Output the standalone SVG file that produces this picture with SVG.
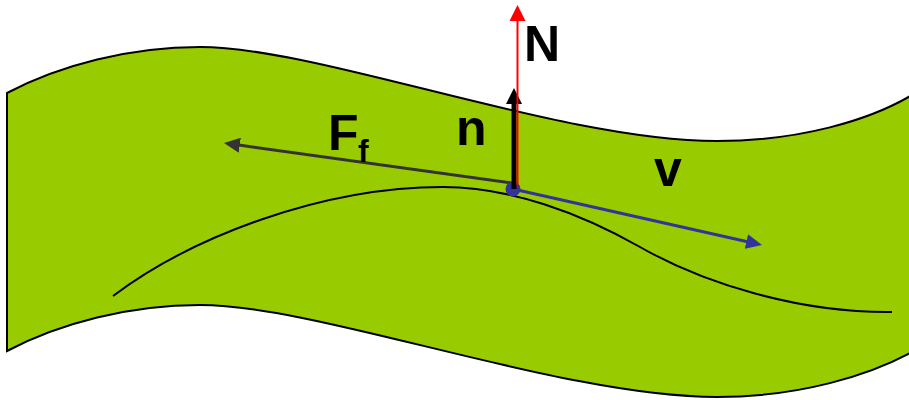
<svg xmlns="http://www.w3.org/2000/svg" width="909" height="400" viewBox="0 0 909 400">
  <style>
    .band { fill: #99CC00; stroke: #000000; stroke-width: 2; }
    .curve { fill: none; stroke: #000000; stroke-width: 2; }
    .lbl { font-family: "Liberation Sans", Arial, sans-serif; font-weight: bold; fill: #000000; }
  </style>
  <defs>
    <marker id="headRed" markerUnits="userSpaceOnUse" viewBox="0 0 16 16" markerWidth="16" markerHeight="16" refX="8" refY="8" orient="auto">
      <path d="M0,0 L16,8 L0,16 z" fill="#FF0000"/>
    </marker>
    <marker id="headBlack" markerUnits="userSpaceOnUse" viewBox="0 0 16 16" markerWidth="16" markerHeight="16" refX="8" refY="8" orient="auto">
      <path d="M0,0 L16,8 L0,16 z" fill="#000000"/>
    </marker>
    <marker id="headGray" markerUnits="userSpaceOnUse" viewBox="0 0 16 15" markerWidth="16" markerHeight="15" refX="8" refY="7.5" orient="auto">
      <path d="M0,0 L16,7.5 L0,15 z" fill="#333333"/>
    </marker>
    <marker id="headBlue" markerUnits="userSpaceOnUse" viewBox="0 0 16 15" markerWidth="16" markerHeight="15" refX="8" refY="7.5" orient="auto">
      <path d="M0,0 L16,7.5 L0,15 z" fill="#333399"/>
    </marker>
  </defs>

  <g id="surface">
    <path class="band" d="M7,93 C60,65 130,47 200,47 C320,47 560,141 717,141 C800,141 870,120 912,95 L912,352 C870,375 800,397 717,397 C560,397 320,305 200,305 C130,305 60,323 7,351 Z"/>
  </g>

  <g id="trajectory">
    <path class="curve" d="M113,296 C190,238 320,187 443,187 C510,187 580,213 640,247 C705,284 800,313 892,312"/>
  </g>

  <g id="connectors">
    <line id="Ff-vector" x1="512" y1="183" x2="231.9" y2="144.1" stroke="#333333" stroke-width="3" marker-end="url(#headGray)"/>
    <line id="v-vector" x1="513" y1="189" x2="754.2" y2="243.2" stroke="#333399" stroke-width="3" marker-end="url(#headBlue)"/>
  </g>

  <g id="point">
    <circle cx="513" cy="189" r="7.5" fill="#333399"/>
  </g>

  <g id="normals">
    <line id="n-vector" x1="514" y1="189" x2="514" y2="96" stroke="#000000" stroke-width="5" marker-end="url(#headBlack)"/>
    <line id="N-vector" x1="517.5" y1="185" x2="517.5" y2="13" stroke="#FF0000" stroke-width="2" marker-end="url(#headRed)"/>
  </g>

  <g id="labels">
    <text id="label-N" class="lbl" x="524" y="61" font-size="50">N</text>
    <text id="label-n" class="lbl" x="456" y="145" font-size="50">n</text>
    <text id="label-Ff" class="lbl" x="328" y="150" font-size="50">F<tspan x="358" y="162" font-size="32">f</tspan></text>
    <text id="label-v" class="lbl" x="654" y="186" font-size="50">v</text>
  </g>
</svg>
